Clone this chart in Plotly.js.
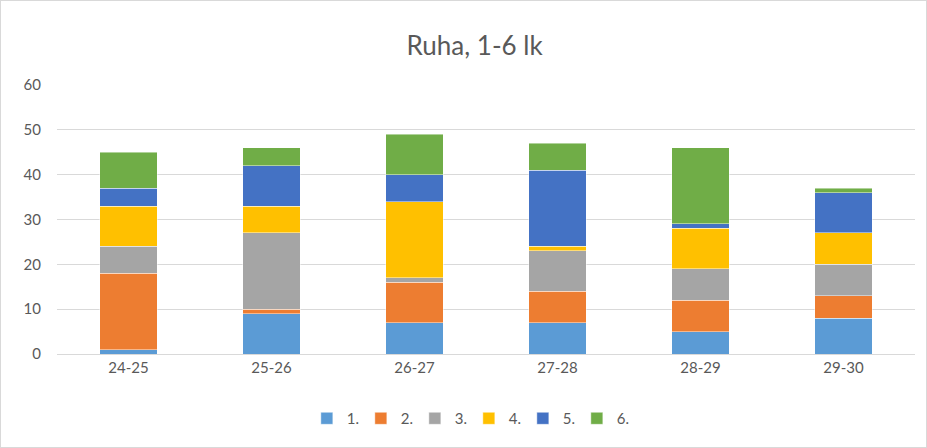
<!DOCTYPE html>
<html><head><meta charset="utf-8">
<script src="https://cdn.plot.ly/plotly-3.0.1.min.js"></script>
<style>html,body{margin:0;padding:0;background:#fff}#c{position:absolute;left:0;top:0;width:925px;height:446px;border:1px solid #d9d9d9}</style>
</head><body><div id="c"></div>
<script>
const categories = ["24-25","25-26","26-27","27-28","28-29","29-30"];
const seriesNames = ["1.","2.","3.","4.","5.","6."];
const s1 = [1, 9, 7, 7, 5, 8];
const s2 = [17, 1, 9, 7, 7, 5];
const s3 = [6, 17, 1, 9, 7, 7];
const s4 = [9, 6, 17, 1, 9, 7];
const s5 = [4, 9, 6, 17, 1, 9];
const s6 = [8, 4, 9, 6, 17, 1];
const colors = ["#5B9BD5","#ED7D31","#A5A5A5","#FFC000","#4472C4","#70AD47"];
const allSeries = [s1,s2,s3,s4,s5,s6];
const font = "Lato, 'Open Sans', sans-serif";
const traces = allSeries.map((v,i)=>({
  type:"bar", name:seriesNames[i], x:categories, y:v,
  marker:{color:colors[i], line:{color:"rgba(255,255,255,0.6)", width:0.75}},
  hoverinfo:"y+name"
}));
const layout = {
  width:925, height:446,
  barmode:"stack", bargap:0.6,
  margin:{l:56, r:11, t:84, b:93},
  paper_bgcolor:"#fff", plot_bgcolor:"#fff",
  title:{text:"Ruha, 1-6 lk", font:{family:font, size:26, color:"#595959"}, x:0.512, xanchor:"center", y:0.9, yanchor:"middle"},
  xaxis:{tickfont:{family:font, size:15, color:"#595959"}, showgrid:false, showline:true, linecolor:"#d9d9d9", linewidth:1, ticks:""},
  yaxis:{range:[0,60], dtick:10, tickfont:{family:font, size:15, color:"#595959"}, gridcolor:"#d9d9d9", gridwidth:1, zeroline:false, showline:false, ticks:"outside", ticklen:12, tickcolor:"rgba(0,0,0,0)", fixedrange:true},
  showlegend:true,
  legend:{orientation:"h", x:0.48, xanchor:"center", y:-0.24, yanchor:"middle", font:{family:font, size:15, color:"#595959"}, traceorder:"normal", itemwidth:30, entrywidth:9, entrywidthmode:"pixels"},
};
Plotly.newPlot("c", traces, layout, {displayModeBar:false, staticPlot:true});
</script></body></html>
